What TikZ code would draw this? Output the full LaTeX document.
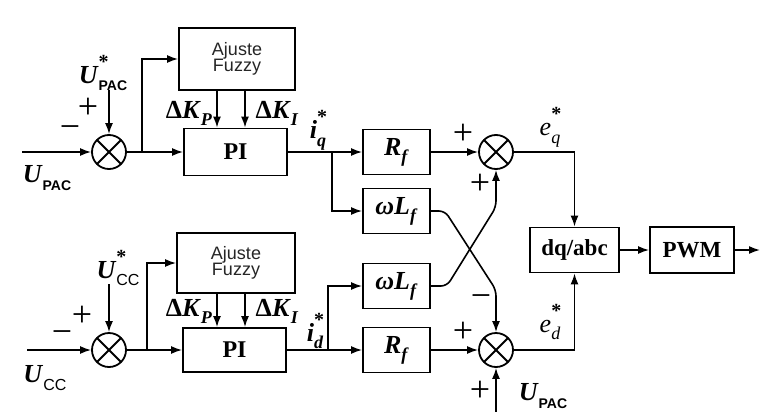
\documentclass[tikz,border=0pt]{standalone}
\usepackage{fontspec}
\setmainfont{Liberation Serif}
\setsansfont{Liberation Sans}
\usetikzlibrary{arrows.meta,calc}
\newcommand{\fs}[1]{\fontsize{#1}{#1}\selectfont}
\newcommand{\SupSub}[3]{#1\makebox[0pt][l]{\raisebox{1.3ex}{#2}}\raisebox{-0.6ex}{#3}}
\newcommand{\starsym}{{\fs{10}\bfseries *}}
\newcommand{\BI}[1]{\textbf{\textit{#1}}}
\tikzset{
  blk/.style={draw, line width=0.9pt, inner sep=0pt},
  sumnode/.style={circle, draw, line width=0.9pt, minimum size=17pt, inner sep=0pt,
    path picture={\draw[line width=0.9pt] (path picture bounding box.north west) -- (path picture bounding box.south east)
      (path picture bounding box.south west) -- (path picture bounding box.north east);}},
  arr/.style={line width=0.8pt, -{Latex[length=5.5pt,width=4pt]}},
  lnk/.style={line width=0.8pt},
  sgn/.style={inner sep=0pt, font=\fs{18}},
  lbl/.style={inner sep=0pt, font=\fs{13}},
  fuz/.style={align=center, font=\fs{9}\sffamily, text=black!85},
}
\begin{document}
\begin{tikzpicture}[x=0.5pt,y=-0.5pt]
\useasboundingbox (0,0) rectangle (760,412);
\fill[white] (0,0) rectangle (760,412);

% ---------- top left ----------
\node[sumnode] (sA) at (109,152) {};
\node[blk, minimum width=58pt, minimum height=31pt, fuz] (fA) at (237,59) {Ajuste\\[-1pt]Fuzzy};
\node[blk, minimum width=51.5pt, minimum height=23.5pt] (pA) at (235.5,152) {\fs{12}\bfseries PI};
\coordinate (inA) at (22,152);
\coordinate (refA) at (109,90);
\coordinate (bA) at (142,152);
\coordinate (kp) at (217,0);
\coordinate (ki) at (245,0);
\coordinate (qb) at (332,152);

% ---------- bottom left ----------
\node[sumnode] (sC) at (109,350) {};
\node[blk, minimum width=59pt, minimum height=30pt, fuz] (fB) at (236,263) {Ajuste\\[-1pt]Fuzzy};
\node[blk, minimum width=51.5pt, minimum height=22pt] (pB) at (234.5,350) {\fs{12}\bfseries PI};
\coordinate (inC) at (27,350);
\coordinate (refC) at (109,284);
\coordinate (bC) at (147,350);
\coordinate (db) at (328,350);

% ---------- right ----------
\node[blk, minimum width=33.5pt, minimum height=22.5pt] (rA) at (396.5,152) {\fs{13}\BI{R}\raisebox{-0.6ex}{\fs{9}\BI{f}}};
\node[blk, minimum width=33.5pt, minimum height=22.5pt] (wA) at (396.5,211) {\fs{13}\BI{ωL}\raisebox{-0.6ex}{\fs{9}\BI{f}}};
\node[blk, minimum width=33.5pt, minimum height=22.5pt] (wB) at (396.5,286) {\fs{13}\BI{ωL}\raisebox{-0.6ex}{\fs{9}\BI{f}}};
\node[blk, minimum width=33.5pt, minimum height=22.5pt] (rB) at (396.5,350) {\fs{13}\BI{R}\raisebox{-0.6ex}{\fs{9}\BI{f}}};
\node[sumnode] (sB) at (496,152) {};
\node[sumnode] (sD) at (496,350) {};
\node[blk, minimum width=44.5pt, minimum height=22.5pt] (dq) at (574.5,250) {\fs{11.5}\bfseries dq/abc};
\node[blk, minimum width=42pt, minimum height=23pt] (pwm) at (692,250) {\fs{11.5}\bfseries PWM};
\coordinate (outc) at (760,250);
\coordinate (upac) at (496,412);
\coordinate (cA1) at (445,211);
\coordinate (cA2) at (496,290);
\coordinate (cB1) at (447,286);
\coordinate (cB2) at (496,207);

% ---------- connectors top left ----------
\draw[arr] (inA) -- (sA.west);
\draw[arr] (refA) -- (sA.north);
\draw[arr] (sA.east) -- (pA.west);
\draw[arr] (bA) |- (fA.west);
\draw[arr] (fA.south -| kp) -- (pA.north -| kp);
\draw[arr] (fA.south -| ki) -- (pA.north -| ki);
\draw[arr] (pA.east) -- (rA.west);
\draw[arr] (qb) |- (wA.west);

% ---------- connectors bottom left ----------
\draw[arr] (inC) -- (sC.west);
\draw[arr] (refC) -- (sC.north);
\draw[arr] (sC.east) -- (pB.west);
\draw[arr] (bC) |- (fB.west);
\draw[arr] (fB.south -| kp) -- (pB.north -| kp);
\draw[arr] (fB.south -| ki) -- (pB.north -| ki);
\draw[arr] (pB.east) -- (rB.west);
\draw[arr] (db) |- (wB.west);

% ---------- connectors right ----------
\draw[arr] (rA.east) -- (sB.west);
\draw[arr] (rB.east) -- (sD.west);
\draw[arr, rounded corners=3pt] (wA.east) -- (cA1) -- (cA2) -- (sD.north);
\draw[arr, rounded corners=3pt] (wB.east) -- (cB1) -- (cB2) -- (sB.south);
\draw[arr] (sB.east) -| (dq.north);
\draw[arr] (sD.east) -| (dq.south);
\draw[arr] (dq.east) -- (pwm.west);
\draw[arr] (pwm.east) -- (outc);
\draw[arr] (upac) -- (sD.south);

% ---------- labels ----------
\node[lbl] (lUrefA) at (103,73) {\SupSub{\BI{U}}{\starsym}{\fs{7}\sffamily\bfseries PAC}};
\node[lbl] (lUA) at (47,178) {\SupSub{\BI{U}}{}{\fs{7}\sffamily\bfseries PAC}};
\node[sgn] (pA1) at (88,108) {+};
\node[sgn] (mA1) at (70,132) {−};
\node[lbl] (kpA) at (189,113) {\textbf{Δ}\BI{K}\raisebox{-0.6ex}{\fs{9}\BI{P}}};
\node[lbl] (kiA) at (277,113) {\textbf{Δ}\BI{K}\raisebox{-0.6ex}{\fs{9}\BI{I}}};
\node[lbl] (iq) at (318,130) {\SupSub{\BI{i}}{\starsym}{\fs{9}\BI{q}}};

\node[lbl] (lUrefC) at (118,268) {\SupSub{\BI{U}}{\starsym}{\fs{8}\sffamily CC}};
\node[lbl] (lUC) at (45,378) {\SupSub{\BI{U}}{}{\fs{8}\sffamily CC}};
\node[sgn] (pC1) at (82,316) {+};
\node[sgn] (mC1) at (62,337) {−};
\node[lbl] (kpB) at (189,311) {\textbf{Δ}\BI{K}\raisebox{-0.6ex}{\fs{9}\BI{P}}};
\node[lbl] (kiB) at (277,311) {\textbf{Δ}\BI{K}\raisebox{-0.6ex}{\fs{9}\BI{I}}};
\node[lbl] (id) at (315,331) {\SupSub{\BI{i}}{\starsym}{\fs{9}\BI{d}}};

\node[sgn] (pB1) at (463,134) {+};
\node[sgn] (pB2) at (480,184) {+};
\node[lbl] (eq) at (550,127) {\SupSub{\textit{e}}{\starsym}{\fs{9}\textit{q}}};
\node[sgn] (mD1) at (481,301) {−};
\node[sgn] (pD1) at (463,332) {+};
\node[lbl] (ed) at (550,322) {\SupSub{\textit{e}}{\starsym}{\fs{9}\textit{d}}};
\node[sgn] (pD2) at (480,391) {+};
\node[lbl] (lUD) at (543,396) {\SupSub{\BI{U}}{}{\fs{7}\sffamily\bfseries PAC}};
\end{tikzpicture}
\end{document}
